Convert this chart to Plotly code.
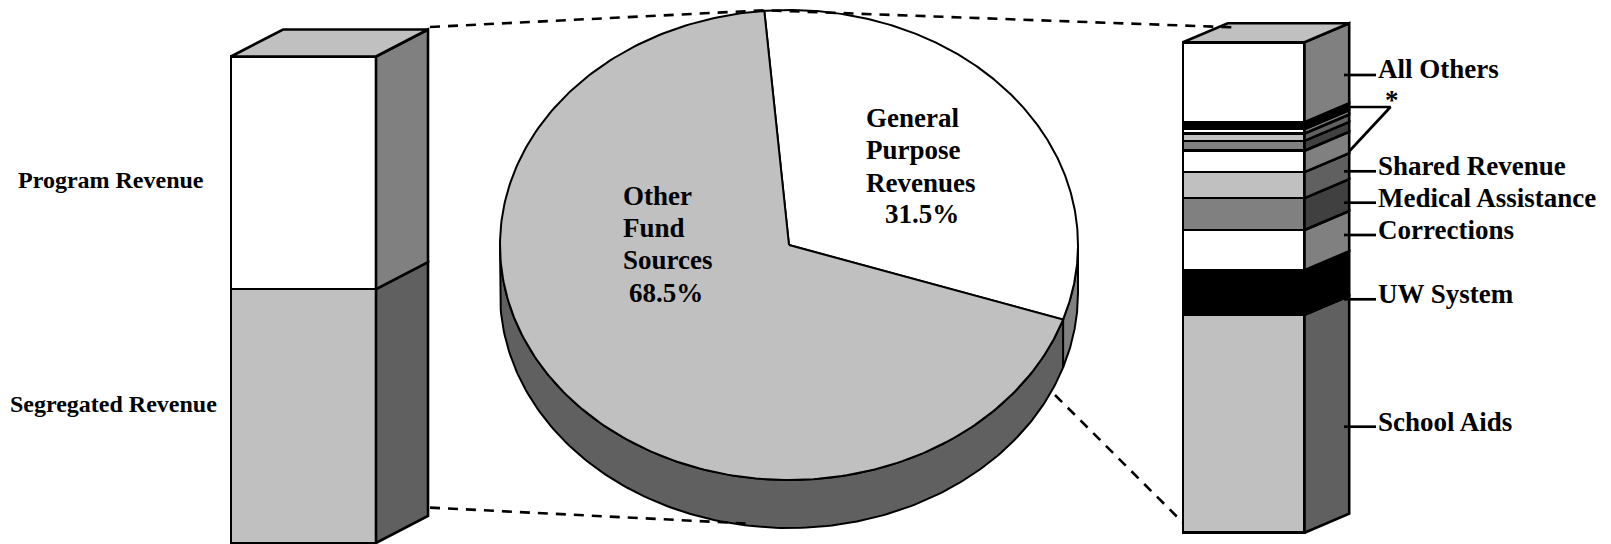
import numpy as np
import plotly.graph_objects as go

# ---------- data (percent shares) ----------
pie_labels = ["General Purpose Revenues", "Other Fund Sources"]
pie_values = [31.5, 68.5]

left_labels = ["Segregated Revenue", "Program Revenue"]
left_values = [52.2, 47.8]

right_labels = ["School Aids", "UW System", "Corrections", "Medical Assistance", "Shared Revenue",
                "Other a", "Other b", "Other c", "Other d", "Other e", "All Others"]
right_values = [44.4, 9.1, 8.2, 6.5, 5.3, 4.35, 2.0, 1.5, 0.9, 1.4, 16.3]

# ---------- styles ----------
LIGHT, MID, DARK, DEEP, WHITE, BLACK = "#c0c0c0", "#808080", "#606060", "#404040", "#ffffff", "#000000"
SIDE = {WHITE: MID, LIGHT: DARK, MID: DEEP, BLACK: BLACK}
left_fill = [LIGHT, WHITE]
right_fill = [LIGHT, BLACK, WHITE, MID, LIGHT, WHITE, MID, LIGHT, WHITE, BLACK, WHITE]
FONT = "Liberation Serif"
BAR_LW = 2.6

fig = go.Figure()
W, H = 1611, 544


def poly(xs, ys, fill, yaxis="y", lw=BAR_LW, name=None):
    fig.add_trace(go.Scatter(x=xs, y=ys, mode="lines", fill="toself", fillcolor=fill,
                             line=dict(color="black", width=lw), yaxis=yaxis,
                             hoverinfo="text", text=name, showlegend=False))


def line(xs, ys, dash="solid", lw=2.7):
    fig.add_trace(go.Scatter(x=xs, y=ys, mode="lines", yaxis="y4", hoverinfo="skip",
                             line=dict(color="black", width=lw, dash=dash), showlegend=False))


# ---------- pie, as an oblique disc ----------
cx, cy, rx, ry, depth = 789, 245, 289, 235, 48
start = -4.9
spans = np.array(pie_values) / sum(pie_values) * 360
edges = start + np.concatenate([[0], np.cumsum(spans)])


def ell(a, b, n=160):
    t = np.radians(np.linspace(a, b, n))
    return cx + rx * np.sin(t), cy - ry * np.cos(t)


for a, b, c in [(90, edges[1], MID), (edges[1], 270, DARK)]:
    ex, ey = ell(a, b)
    poly(np.r_[ex, ex[::-1], ex[0]], np.r_[ey, ey[::-1] + depth, ey[0]], c, lw=2)
for i, c in enumerate([WHITE, LIGHT]):
    ex, ey = ell(edges[i], edges[i + 1], 260)
    poly(np.r_[cx, ex, cx], np.r_[cy, ey, cy], c, lw=2, name=pie_labels[i])


# ---------- stacks ----------
def draw_stack(values, fills, labels, x0, x1, dx, dy, y_bottom, y_top, axis_key, yaxis):
    scale = (y_bottom - y_top) / sum(values)
    fig.update_layout({axis_key: dict(overlaying="y", visible=False, fixedrange=True,
                                      range=[(y_bottom - H) / scale, y_bottom / scale])})
    base = 0.0
    d = dy / scale
    for v, f, lab in zip(values, fills, labels):
        fig.add_trace(go.Bar(x=[(x0 + x1) / 2], y=[v], width=[x1 - x0], base=[base], yaxis=yaxis,
                             marker=dict(color=f, line=dict(color="black", width=BAR_LW)),
                             name=lab, showlegend=False))
        poly([x1, x1 + dx, x1 + dx, x1, x1], [base, base + d, base + v + d, base + v, base],
             SIDE[f], yaxis=yaxis, name=lab)
        base += v
    poly([x0, x0 + dx, x1 + dx, x1, x0], [base, base + d, base + d, base, base], LIGHT, yaxis=yaxis)


draw_stack(left_values, left_fill, left_labels, 231, 376, 52, 27, 543, 56.5, "yaxis2", "y2")
draw_stack(right_values, right_fill, right_labels, 1183, 1304.5, 44.7, 19, 532.7, 42.3, "yaxis3", "y3")

# ---------- connectors and leaders ----------
DASH = "10px,8px"
line([430, 764.6, 1231.7], [27, 10.3, 27.3], dash=DASH, lw=2.6)
line([430, 749], [507.6, 523.6], dash=DASH, lw=2.6)
line([1055, 1183], [395, 522.7], dash=DASH, lw=2.6)
for yy in [75, 171.3, 202.7, 235, 299.3, 426.7]:
    line([1344, 1376], [yy, yy])
line([1349, 1390.5, 1349], [107, 107, 151.5])


# ---------- text ----------
def note(x, y, s, size=27):
    fig.add_annotation(x=x, y=y, xref="x", yref="y", text=f"<b>{s}</b>", showarrow=False,
                       xanchor="left", yanchor="middle", font=dict(family=FONT, size=size, color="black"))


note(16.3, 179.5, "Program Revenue", 24)
note(7.5, 403.5, "Segregated Revenue", 24)
for y, s in zip([118, 150, 182.5], ["General", "Purpose", "Revenues"]):
    note(863.6, y, s)
note(883, 214, "31.5%")
for y, s in zip([196, 228, 260], ["Other", "Fund", "Sources"]):
    note(620.5, y, s)
note(627, 293, "68.5%")
for y, s in zip([69, 166, 198, 230, 294, 422],
                ["All Others", "Shared Revenue", "Medical Assistance", "Corrections", "UW System", "School Aids"]):
    note(1376, y, s)
note(1383, 100, "*")

fig.update_layout(
    width=W, height=H, margin=dict(l=0, r=0, t=0, b=0),
    paper_bgcolor="white", plot_bgcolor="white", barmode="stack", showlegend=False,
    xaxis=dict(range=[0, W], visible=False, fixedrange=True),
    yaxis=dict(range=[H, 0], visible=False, fixedrange=True),
    yaxis4=dict(range=[H, 0], overlaying="y", visible=False, fixedrange=True),
)
fig.write_html("out.html", config=dict(displayModeBar=False),
               post_script="document.body.style.margin='0';")
